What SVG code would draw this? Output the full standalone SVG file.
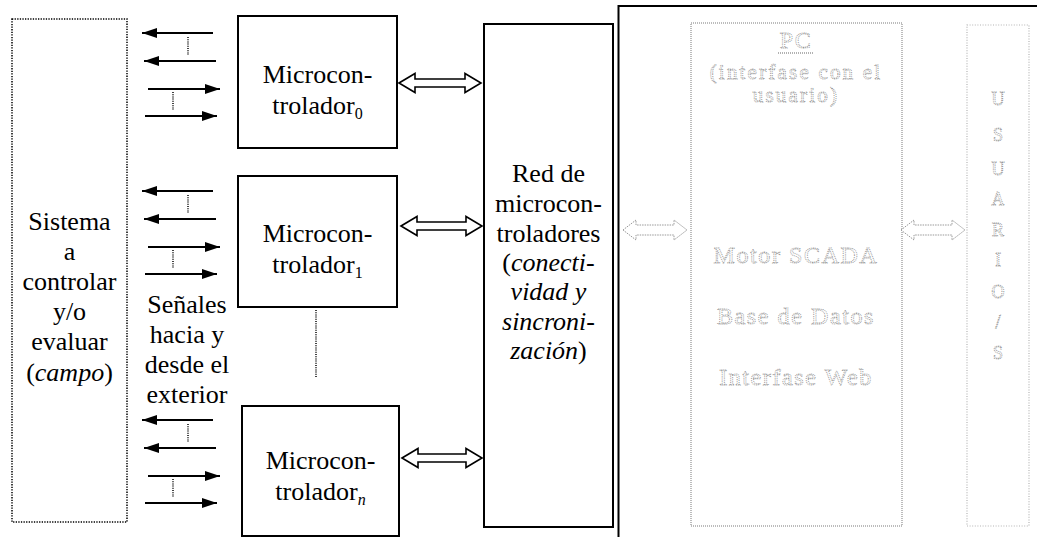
<svg xmlns="http://www.w3.org/2000/svg" width="1037" height="537" viewBox="0 0 1037 537" font-family="Liberation Serif, Tinos, Times New Roman, Times, DejaVu Serif, serif">
<defs>
<style>
.t{font-family:'Liberation Serif','Tinos','Times New Roman','Times','DejaVu Serif',serif;font-size:26px;fill:#000;text-anchor:middle}
.sub{font-size:16px}
.it{font-style:italic}
.box{fill:#fff;stroke:#000;stroke-width:2}
.sig{stroke:#000;stroke-width:2;fill:none}
.dot{stroke:#000;stroke-width:1.5;stroke-dasharray:1 1.2;fill:none}
.dbl{fill:#fff;stroke:#000;stroke-width:1.6;stroke-linejoin:miter}
.g{font-family:'Liberation Serif','Tinos','Times New Roman','Times','DejaVu Serif',serif;font-size:24px;letter-spacing:1.6px;text-anchor:middle;fill:#fff;stroke:#8e8e8e;stroke-width:0.8;stroke-dasharray:1 0.9}
.gh{font-size:21px;letter-spacing:2.2px}
.gs{font-size:18px;letter-spacing:0}
.gbox{fill:none;stroke:#a6a6a6;stroke-width:1.5;stroke-dasharray:1 1}
.gbox2{fill:none;stroke:#b4b4b4;stroke-width:1.2;stroke-dasharray:1 1.6}
.gdbl{fill:#fff;stroke:#999;stroke-width:1;stroke-dasharray:1.5 1}
</style>
<marker id="ah" viewBox="0 0 15 10" refX="15" refY="5" markerWidth="15" markerHeight="10" markerUnits="userSpaceOnUse" orient="auto">
<path d="M0,0 L15,5 L0,10 Z" fill="#000"/>
</marker>
</defs>

<g id="frame">
<path d="M618.5,537 L618.5,6 L1037,6" fill="none" stroke="#000" stroke-width="2"/>
</g>

<g id="sistema">
<rect x="12" y="19" width="115" height="503" fill="none" stroke="#000" stroke-width="1.5" stroke-dasharray="1.3 1.3"/>
<text class="t" x="69.5" y="230">Sistema</text>
<text class="t" x="69.5" y="260">a</text>
<text class="t" x="69.5" y="290">controlar</text>
<text class="t" x="69.5" y="320">y/o</text>
<text class="t" x="69.5" y="350">evaluar</text>
<text class="t" x="69.5" y="381">(<tspan class="it">campo</tspan>)</text>
</g>

<g id="senales">
<text class="t" x="187" y="313">Señales</text>
<text class="t" x="187" y="343">hacia y</text>
<text class="t" x="187" y="373">desde el</text>
<text class="t" x="187" y="403">exterior</text>
</g>

<g id="mc0">
<rect class="box" x="238" y="16" width="159" height="132"/>
<text class="t" x="317.5" y="83">Microcon-</text>
<text class="t" x="317.5" y="114">trolador<tspan class="sub" dy="5">0</tspan></text>
</g>

<g id="mc1">
<rect class="box" x="238" y="176" width="159" height="131"/>
<text class="t" x="317.5" y="242">Microcon-</text>
<text class="t" x="317.5" y="273">trolador<tspan class="sub" dy="5">1</tspan></text>
</g>

<g id="mcn">
<rect class="box" x="242" y="406" width="157" height="130"/>
<text class="t" x="320.5" y="469">Microcon-</text>
<text class="t" x="320.5" y="500">trolador<tspan class="sub it" dy="5">n</tspan></text>
</g>

<g id="red">
<rect class="box" x="484" y="24" width="129" height="503"/>
<text class="t" x="548.5" y="182">Red de</text>
<text class="t" x="548.5" y="212">microcon-</text>
<text class="t" x="548.5" y="242">troladores</text>
<text class="t" x="548.5" y="271">(<tspan class="it">conecti-</tspan></text>
<text class="t it" x="548.5" y="300">vidad y</text>
<text class="t it" x="548.5" y="330">sincroni-</text>
<text class="t" x="548.5" y="359"><tspan class="it">zación</tspan>)</text>
</g>

<g id="pc">
<rect class="gbox" x="691" y="23" width="211" height="503"/>
<text class="g" x="796" y="48">PC</text>
<line x1="778" y1="53" x2="813" y2="53" stroke="#999" stroke-width="1.5" stroke-dasharray="1 1"/>
<text class="g gh" x="796" y="79">(interfase con el</text>
<text class="g gh" x="796" y="102">usuario)</text>
<text class="g" x="796" y="263">Motor SCADA</text>
<text class="g" x="796" y="324">Base de Datos</text>
<text class="g" x="796" y="385">Interfase Web</text>
</g>

<g id="usuarios">
<rect class="gbox2" x="967" y="25" width="62" height="501"/>
<text class="g gs" x="998" y="105">U</text>
<text class="g gs" x="998" y="141">S</text>
<text class="g gs" x="998" y="175">U</text>
<text class="g gs" x="998" y="205">A</text>
<text class="g gs" x="998" y="236">R</text>
<text class="g gs" x="998" y="266">I</text>
<text class="g gs" x="998" y="298">O</text>
<text class="g gs" x="998" y="328">/</text>
<text class="g gs" x="998" y="359">S</text>
</g>

<g id="connectors">
<line class="sig" x1="213" y1="33" x2="142" y2="33" marker-end="url(#ah)"/>
<line class="sig" x1="216" y1="61" x2="144" y2="61" marker-end="url(#ah)"/>
<line class="sig" x1="148" y1="89" x2="220" y2="89" marker-end="url(#ah)"/>
<line class="sig" x1="145" y1="116" x2="217" y2="116" marker-end="url(#ah)"/>
<line class="dot" x1="188" y1="37" x2="188" y2="55"/>
<line class="dot" x1="173" y1="92" x2="173" y2="110"/>
<line class="sig" x1="213" y1="191" x2="142" y2="191" marker-end="url(#ah)"/>
<line class="sig" x1="216" y1="219" x2="144" y2="219" marker-end="url(#ah)"/>
<line class="sig" x1="148" y1="247" x2="220" y2="247" marker-end="url(#ah)"/>
<line class="sig" x1="145" y1="274" x2="217" y2="274" marker-end="url(#ah)"/>
<line class="dot" x1="188" y1="195" x2="188" y2="213"/>
<line class="dot" x1="173" y1="250" x2="173" y2="268"/>
<line class="sig" x1="213" y1="420" x2="142" y2="420" marker-end="url(#ah)"/>
<line class="sig" x1="216" y1="448" x2="144" y2="448" marker-end="url(#ah)"/>
<line class="sig" x1="148" y1="476" x2="220" y2="476" marker-end="url(#ah)"/>
<line class="sig" x1="145" y1="503" x2="217" y2="503" marker-end="url(#ah)"/>
<line class="dot" x1="188" y1="424" x2="188" y2="442"/>
<line class="dot" x1="173" y1="479" x2="173" y2="497"/>
<line class="dot" x1="316" y1="310" x2="316" y2="377"/>
<path class="dbl" d="M399,83 L415,73.5 L415,79 L465,79 L465,73.5 L481,83 L465,92.5 L465,87 L415,87 L415,92.5 Z"/>
<path class="dbl" d="M401,226 L417,216.5 L417,222 L466,222 L466,216.5 L482,226 L466,235.5 L466,230 L417,230 L417,235.5 Z"/>
<path class="dbl" d="M402,458 L418,448.5 L418,454 L466,454 L466,448.5 L482,458 L466,467.5 L466,462 L418,462 L418,467.5 Z"/>
<path class="gdbl" d="M623,230 L636,220 L636,225 L674,225 L674,220 L687,230 L674,240 L674,235 L636,235 L636,240 Z"/>
<path class="gdbl" d="M901,230 L914,220 L914,225 L952,225 L952,220 L965,230 L952,240 L952,235 L914,235 L914,240 Z"/>
</g>
</svg>
